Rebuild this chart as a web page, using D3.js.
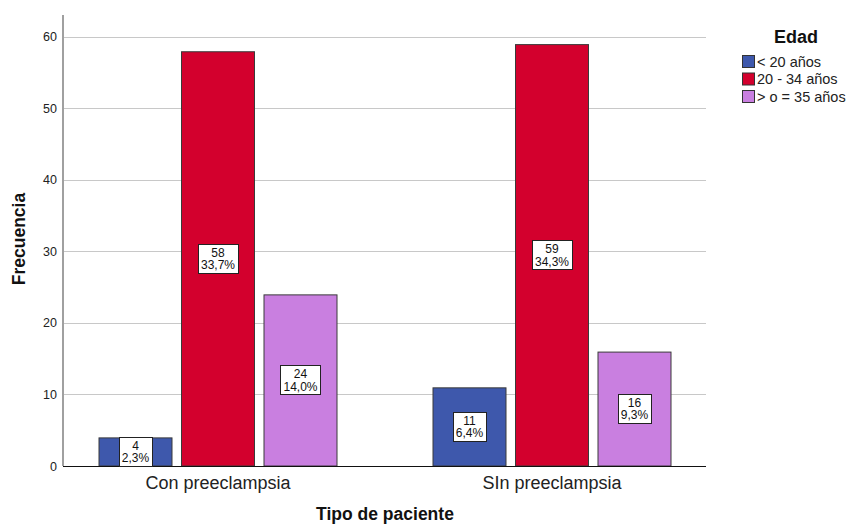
<!DOCTYPE html>
<html>
<head>
<meta charset="utf-8">
<script src="https://cdn.jsdelivr.net/npm/d3@7"></script>
<style>
  html, body { margin: 0; padding: 0; background: #fff; }
  svg { display: block; font-family: "Liberation Sans", Arial, sans-serif; }
</style>
</head>
<body>
<svg id="chart" width="850" height="524"></svg>
<script>
// Frecuencia por tipo de paciente y grupo de edad
const categories = ["Con preeclampsia", "SIn preeclampsia"];
const groups = ["< 20 años", "20 - 34 años", "> o = 35 años"];
const counts = {
  "< 20 años":     [4, 11],
  "20 - 34 años":  [58, 59],
  "> o = 35 años": [24, 16]
};
const percents = {
  "< 20 años":     ["2,3%", "6,4%"],
  "20 - 34 años":  ["33,7%", "34,3%"],
  "> o = 35 años": ["14,0%", "9,3%"]
};
const yTicks = [0, 10, 20, 30, 40, 50, 60];
const colors = ["#3e58ac", "#d3002d", "#c97fe0"];

const svg = d3.select("#chart");

const plot = { left: 63, right: 706, top: 15, bottom: 466 };

const y = d3.scaleLinear().domain([0, 63]).range([plot.bottom, plot.top + 0.5]);
const x0 = d3.scaleBand().domain(categories).range([51, 719]).paddingInner(0).paddingOuter(0);
const barW = 74, barGap = 8.5;
const x1 = d3.scaleBand().domain(groups)
  .range([0, groups.length * barW + (groups.length - 1) * barGap])
  .paddingInner(barGap / (barW + barGap));
const groupOffset = (x0.bandwidth() - x1.range()[1]) / 2;
const color = d3.scaleOrdinal().domain(groups).range(colors);

// grid lines
svg.append("g").selectAll("line")
  .data(yTicks.filter(d => d > 0))
  .join("line")
  .attr("x1", plot.left).attr("x2", plot.right)
  .attr("y1", d => Math.round(y(d)) + 0.5).attr("y2", d => Math.round(y(d)) + 0.5)
  .attr("stroke", "#c8c8c8").attr("stroke-width", 1);

// y axis
const yAxis = svg.append("g")
  .attr("transform", `translate(${plot.left},0)`)
  .call(d3.axisLeft(y).tickValues(yTicks).tickSize(0).tickPadding(6));
yAxis.select(".domain").remove();
yAxis.selectAll("text").attr("font-size", 12.5).attr("fill", "#222")
  .attr("font-family", "'Liberation Sans', Arial, sans-serif");
svg.append("line")
  .attr("x1", plot.left).attr("x2", plot.left)
  .attr("y1", plot.top).attr("y2", plot.bottom)
  .attr("stroke", "#a0a0a0").attr("stroke-width", 2);

// bars
const barsG = svg.append("g");
categories.forEach((cat, ci) => {
  groups.forEach(g => {
    const v = counts[g][ci];
    const bx = x0(cat) + groupOffset + x1(g);
    barsG.append("rect")
      .attr("x", bx + 0.5).attr("y", y(v) + 0.5)
      .attr("width", x1.bandwidth() - 1).attr("height", y(0) - y(v) - 0.5)
      .attr("fill", color(g))
      .attr("stroke", "#3a3a3a").attr("stroke-width", 1);
  });
});

// x axis baseline
svg.append("line")
  .attr("x1", plot.left).attr("x2", plot.right)
  .attr("y1", plot.bottom + 0.5).attr("y2", plot.bottom + 0.5)
  .attr("stroke", "#111").attr("stroke-width", 1);

// value labels
const labG = svg.append("g");
categories.forEach((cat, ci) => {
  groups.forEach(g => {
    const v = counts[g][ci];
    const cx = x0(cat) + groupOffset + x1(g) + x1.bandwidth() / 2;
    const cy = y(v / 2);
    const lg = labG.append("g");
    const t1 = lg.append("text").attr("x", cx).attr("y", cy - 2)
      .attr("text-anchor", "middle").attr("font-size", 12).attr("fill", "#111")
      .text(v);
    const t2 = lg.append("text").attr("x", cx).attr("y", cy + 10.5)
      .attr("text-anchor", "middle").attr("font-size", 12).attr("fill", "#111")
      .text(percents[g][ci]);
    const w = Math.max(t1.node().getComputedTextLength(), t2.node().getComputedTextLength()) + 6;
    lg.insert("rect", "text")
      .attr("x", Math.round(cx - w / 2) + 0.5).attr("y", Math.round(cy - 15) + 0.5)
      .attr("width", Math.round(w)).attr("height", 29)
      .attr("fill", "#fff").attr("stroke", "#222").attr("stroke-width", 1);
  });
});

// category labels
svg.append("g").selectAll("text")
  .data(categories).join("text")
  .attr("x", d => x0(d) + x0.bandwidth() / 2)
  .attr("y", 489)
  .attr("text-anchor", "middle")
  .attr("font-size", 18).attr("fill", "#222")
  .text(d => d);

// axis titles
svg.append("text")
  .attr("x", 385).attr("y", 520)
  .attr("text-anchor", "middle").attr("font-size", 17.5).attr("font-weight", "bold")
  .attr("fill", "#111").text("Tipo de paciente");
svg.append("text")
  .attr("transform", "translate(25,239) rotate(-90)")
  .attr("text-anchor", "middle").attr("font-size", 17.5).attr("font-weight", "bold")
  .attr("fill", "#111").text("Frecuencia");

// legend
const leg = svg.append("g");
leg.append("text").attr("x", 796).attr("y", 43)
  .attr("text-anchor", "middle").attr("font-size", 18).attr("font-weight", "bold")
  .attr("fill", "#111").text("Edad");
groups.forEach((g, i) => {
  const ly = 55 + i * 17.5;
  leg.append("rect").attr("x", 742.5).attr("y", ly + 0.5).attr("width", 12).attr("height", 12)
    .attr("fill", color(g)).attr("stroke", "#333").attr("stroke-width", 1);
  leg.append("text").attr("x", 757).attr("y", ly + 11.5)
    .attr("font-size", 14.5).attr("fill", "#222").text(g);
});
</script>
</body>
</html>
